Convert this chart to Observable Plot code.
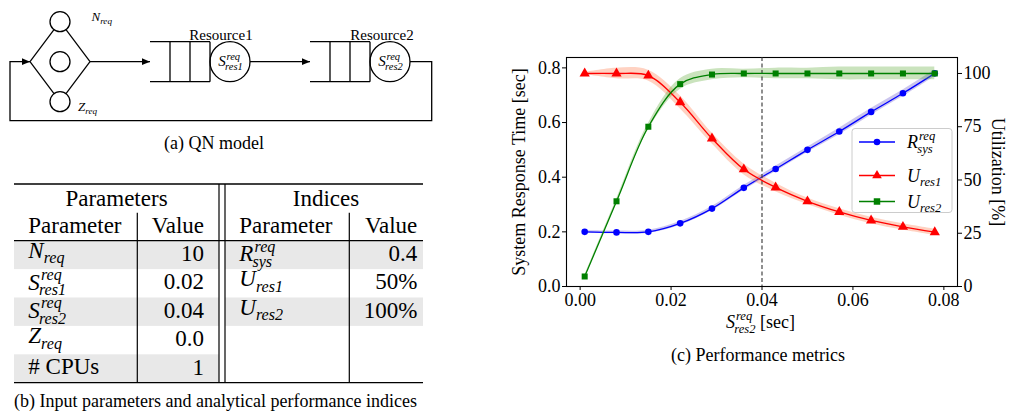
<!DOCTYPE html>
<html><head><meta charset="utf-8">
<script src="https://cdn.jsdelivr.net/npm/d3@7"></script>
<script src="https://cdn.jsdelivr.net/npm/@observablehq/plot@0.6"></script>
<style>
body{margin:0;width:1009px;height:419px;background:#fff;position:relative;overflow:hidden;font-family:"Liberation Serif",serif;}
.abs{position:absolute;}
svg, svg text{font-family:"Liberation Serif",serif !important;}
</style></head><body>
<svg id="diagram" class="abs" style="left:0;top:0" width="450" height="165"></svg>
<svg id="table" class="abs" style="left:0;top:0" width="450" height="419"></svg>
<div id="chart1" class="abs" style="left:480px;top:0"></div>
<div id="chart2" class="abs" style="left:480px;top:0"></div>
<svg id="over" class="abs" style="left:0;top:0;pointer-events:none" width="1009" height="419"></svg>
<script>
// ---------------- data ----------------
const sRes2 = [0.001,0.008,0.015,0.022,0.029,0.036,0.043,0.050,0.057,0.064,0.071,0.078];
const rSys  = [0.200,0.198,0.200,0.231,0.285,0.361,0.430,0.500,0.567,0.639,0.707,0.780];
const rSysBand = [0.005,0.005,0.006,0.007,0.008,0.009,0.010,0.010,0.012,0.012,0.012,0.012];
const uRes1 = [100,100,99,86.5,69.5,55,46.5,40,35,31,28,25.5];
const uRes1Band = [0.5,2.5,2.5,3,2.5,2.5,2,1.5,1.5,1.5,1.5,1.5];
const uRes2 = [4.7,40,75,95,99.5,100,100,100,100,100,100,100];
const uRes2Band = [0.5,1,1.5,2.5,2.5,2,2.5,2.5,3,3,3,3];
const xTicks = [0,0.02,0.04,0.06,0.08];
const yLeftTicks = [0,0.2,0.4,0.6,0.8];
const yRightTicks = [0,25,50,75,100];
const analyticS2 = 0.04;
const yLeftLabel = "System Response Time [sec]";
const yRightLabel = "Utilization [%]";

// table
const paramNames = [{base:"N",sub:"req"},{base:"S",sup:"req",sub:"res1"},{base:"S",sup:"req",sub:"res2"},{base:"Z",sub:"req"},{text:"# CPUs"}];
const paramValues = ["10","0.02","0.04","0.0","1"];
const indexNames = [{base:"R",sup:"req",sub:"sys"},{base:"U",sub:"res1"},{base:"U",sub:"res2"}];
const indexValues = ["0.4","50%","100%"];

// ---------------- helpers ----------------
function math(sel, o) {
  const size = o.size, sc = o.scale || 0.7;
  const g = sel.append("g");
  let w = 0;
  if (o.text) {
    const t = g.append("text").attr("font-size", size).text(o.text);
    w = t.node().getComputedTextLength();
  } else {
    const b = g.append("text").attr("font-size", size).attr("font-style","italic").text(o.base);
    w = b.node().getComputedTextLength();
    let ws = 0, wb = 0;
    if (o.sup) {
      const s = g.append("text").attr("x", w + size*0.05).attr("y", -size*0.42)
        .attr("font-size", size*sc).attr("font-style","italic").text(o.sup);
      ws = s.node().getComputedTextLength() + size*0.05;
    }
    if (o.sub) {
      const s = g.append("text").attr("x", w - (o.sup ? size*0.04 : 0)).attr("y", size*0.25)
        .attr("font-size", size*sc).attr("font-style","italic").text(o.sub);
      wb = s.node().getComputedTextLength() - (o.sup ? size*0.04 : 0);
    }
    w += Math.max(ws, wb);
  }
  if (o.suffix) {
    const t = g.append("text").attr("x", w + size*0.25).attr("font-size", size).text(o.suffix);
    w += size*0.25 + t.node().getComputedTextLength();
  }
  const dx = o.anchor === "middle" ? -w/2 : o.anchor === "end" ? -w : 0;
  g.attr("transform", `translate(${o.x + dx},${o.y})`);
  return g;
}

// ---------------- (a) diagram ----------------
(function(){
  const s = d3.select("#diagram");
  s.append("defs").append("marker").attr("id","ah").attr("viewBox","0 0 10 10")
    .attr("refX",10).attr("refY",5).attr("markerWidth",9).attr("markerHeight",8)
    .attr("markerUnits","userSpaceOnUse").attr("orient","auto")
    .append("path").attr("d","M0,0.8 L10,5 L0,9.2 z").attr("fill","black");
  const st = {stroke:"black","stroke-width":1.3,fill:"none"};
  const P = (d, arrow) => { const p = s.append("path").attr("d", d); Object.entries(st).forEach(([k,v])=>p.attr(k,v)); if (arrow) p.attr("marker-end","url(#ah)"); };
  const cy = 61.7;
  P(`M410,${cy} H431.7 V120.7 H10 V${cy} H30`, true);
  const cxD = 60, rD = 10, cTop = 21.7, cBot = 101.7;
  const edge = (x0,y0,cx,cyy) => { const dx=cx-x0, dy=cyy-y0, L=Math.hypot(dx,dy); return [x0+dx*(L-rD)/L, y0+dy*(L-rD)/L]; };
  [[30,cTop],[30,cBot],[90,cTop],[90,cBot]].forEach(([x0,c])=>{ const [x1,y1]=edge(x0,cy,cxD,c); P(`M${x0},${cy} L${x1},${y1}`); });
  [cTop, cy, cBot].forEach(c => s.append("circle").attr("cx",cxD).attr("cy",c).attr("r",rD).attr("stroke","black").attr("stroke-width",1.3).attr("fill","none"));
  P(`M90,${cy} H150`, true);
  P(`M250,${cy} H310`, true);
  [[150,230],[310,390]].forEach(([x0,cc])=>{
    P(`M${x0},41.7 H${x0+60} M${x0},81.7 H${x0+60} M${x0+20},41.7 V81.7 M${x0+40},41.7 V81.7 M${x0+60},41.7 V81.7`);
    s.append("circle").attr("cx",cc).attr("cy",cy).attr("r",20).attr("stroke","black").attr("stroke-width",1.3).attr("fill","none");
  });
  s.append("text").attr("x",221).attr("y",39.5).attr("font-size",15).attr("text-anchor","middle").text("Resource1");
  s.append("text").attr("x",382).attr("y",39.5).attr("font-size",15).attr("text-anchor","middle").text("Resource2");
  math(s,{x:230.5,y:66,base:"S",sup:"req",sub:"res1",size:15,anchor:"middle"});
  math(s,{x:390.5,y:66,base:"S",sup:"req",sub:"res2",size:15,anchor:"middle"});
  math(s,{x:91.5,y:21,base:"N",sub:"req",size:13});
  math(s,{x:78,y:111,base:"Z",sub:"req",size:13});
  s.append("text").attr("x",214).attr("y",149).attr("font-size",18).attr("text-anchor","middle").text("(a) QN model");
})();

// ---------------- (b) table ----------------
(function(){
  const s = d3.select("#table");
  const L = 14, R = 423, D1 = 219, D2 = 225, V1 = 137.3, V2 = 349.3;
  const top = 184, subTop = 212.7, hdrBottom = 240.7, rowH = 28.4;
  const rowTop = i => hdrBottom + i*rowH;
  const bottom = rowTop(paramValues.length);
  paramValues.forEach((v,i)=>{ if (i%2===0) s.append("rect").attr("x",L).attr("y",rowTop(i)).attr("width",D1-L).attr("height",rowH).attr("fill","#e8e8e8"); });
  indexValues.forEach((v,i)=>{ if (i%2===0) s.append("rect").attr("x",D2).attr("y",rowTop(i)).attr("width",R-D2).attr("height",rowH).attr("fill","#e8e8e8"); });
  const line = (x1,y1,x2,y2,w=1.2) => s.append("line").attr("x1",x1).attr("y1",y1).attr("x2",x2).attr("y2",y2).attr("stroke","black").attr("stroke-width",w);
  line(L,top,R,top,1.3); line(L,hdrBottom,R,hdrBottom); line(L,bottom,R,bottom,1.3);
  line(D1,top,D1,bottom); line(D2,top,D2,bottom);
  line(V1,subTop,V1,bottom); line(V2,subTop,V2,bottom);
  const fs = 23;
  const txt = (x,y,t,a="start") => s.append("text").attr("x",x).attr("y",y).attr("font-size",fs).attr("text-anchor",a).text(t);
  txt((L+D1)/2, 205.5, "Parameters", "middle");
  txt((D2+R)/2+2, 205.5, "Indices", "middle");
  txt(28.3, 233, "Parameter"); txt(204, 233, "Value", "end");
  txt(239.3, 233, "Parameter"); txt(417.3, 233, "Value", "end");
  paramNames.forEach((n,i)=>{
    const base = rowTop(i) + (n.text ? 20 : (n.sup ? 20.5 : 17));
    math(s, Object.assign({x:28.3, y:base, size:fs}, n));
    txt(204, rowTop(i)+20.2, paramValues[i], "end");
  });
  indexNames.forEach((n,i)=>{
    const base = rowTop(i) + (n.sup ? 20.5 : 17);
    math(s, Object.assign({x:239.3, y:base, size:fs}, n));
    txt(417.3, rowTop(i)+20.2, indexValues[i], "end");
  });
  s.append("text").attr("x",215.5).attr("y",407).attr("font-size",18).attr("text-anchor","middle").text("(b) Input parameters and analytical performance indices");
})();

// ---------------- (c) chart ----------------
const rows = sRes2.map((x,i)=>({x,
  r:rSys[i], rLo:rSys[i]-rSysBand[i], rHi:rSys[i]+rSysBand[i],
  u1:uRes1[i], u1Lo:uRes1[i]-uRes1Band[i], u1Hi:uRes1[i]+uRes1Band[i],
  u2:uRes2[i], u2Lo:uRes2[i]-uRes2Band[i], u2Hi:uRes2[i]+uRes2Band[i]}));
const common = {width:529, height:340, marginLeft:86, marginRight:52, marginTop:57, marginBottom:54,
  style:{fontFamily:"'Liberation Serif', serif", fontSize:"18px", color:"black", background:"transparent", overflow:"visible"}};
const curve = "catmull-rom";
const p1 = Plot.plot({...common,
  x:{domain:[-0.003,0.083]}, y:{domain:[0,0.838]},
  marks:[
    Plot.areaY(rows,{x:"x", y1:"rLo", y2:"rHi", fill:"#6a5acd", fillOpacity:0.35, curve}),
    Plot.lineY(rows,{x:"x", y:"r", stroke:"blue", strokeWidth:1.3, curve}),
    Plot.dot(rows,{x:"x", y:"r", fill:"blue", stroke:"none", r:3.3, symbol:"circle"}),
    Plot.axisX({ticks:xTicks, tickFormat:d3.format(".2f"), tickSize:4, tickPadding:3, label:null, stroke:"black"}),
    Plot.axisY({ticks:yLeftTicks, tickFormat:d3.format(".1f"), tickSize:4, tickPadding:2, label:null, stroke:"black"}),
    Plot.text([yLeftLabel],{frameAnchor:"left", dx:-47, rotate:-90, text:d=>d, textAnchor:"middle", fontSize:18}),
    Plot.frame({stroke:"black", strokeWidth:1.1})
  ]});
document.getElementById("chart1").appendChild(p1);
const p2 = Plot.plot({...common,
  x:{domain:[-0.003,0.083], axis:null}, y:{domain:[0,107.5]},
  marks:[
    Plot.areaY(rows,{x:"x", y1:"u1Lo", y2:"u1Hi", fill:"#ff7f50", fillOpacity:0.35, curve}),
    Plot.areaY(rows,{x:"x", y1:"u2Lo", y2:"u2Hi", fill:"#5aa832", fillOpacity:0.32, curve}),
    Plot.ruleX([analyticS2],{stroke:"#333", strokeWidth:1.1, strokeDasharray:"4,2.5"}),
    Plot.lineY(rows,{x:"x", y:"u1", stroke:"red", strokeWidth:1.3, curve}),
    Plot.lineY(rows,{x:"x", y:"u2", stroke:"green", strokeWidth:1.3, curve}),
    Plot.dot(rows,{x:"x", y:"u1", fill:"red", stroke:"none", r:3.8, symbol:"triangle"}),
    Plot.dot(rows,{x:"x", y:"u2", fill:"green", stroke:"none", r:3.4, symbol:"square"}),
    Plot.axisY({anchor:"right", ticks:yRightTicks, tickSize:4, tickPadding:2, label:null, stroke:"black"}),
    Plot.text([yRightLabel],{frameAnchor:"right", dx:40, rotate:90, text:d=>d, textAnchor:"middle", fontSize:18})
  ]});
document.getElementById("chart2").appendChild(p2);

// overlay: x label, legend, caption
(function(){
  const s = d3.select("#over");
  math(s,{x:760.5, y:328, base:"S", sup:"req", sub:"res2", suffix:"[sec]", size:18, anchor:"middle"});
  s.append("text").attr("x",758).attr("y",360.5).attr("font-size",18).attr("text-anchor","middle").text("(c) Performance metrics");
  s.append("rect").attr("x",852).attr("y",128.5).attr("width",100).attr("height",84).attr("rx",3)
    .attr("fill","white").attr("fill-opacity",0.8).attr("stroke","#cccccc").attr("stroke-width",1);
  const items = [
    {name:indexNames[0], color:"blue", sym:d3.symbolCircle, area:34, y:142},
    {name:indexNames[1], color:"red", sym:d3.symbolTriangle, area:40, y:175.5},
    {name:indexNames[2], color:"green", sym:d3.symbolSquare, area:42, y:201.5}];
  items.forEach(it=>{
    s.append("line").attr("x1",859).attr("x2",895).attr("y1",it.y).attr("y2",it.y).attr("stroke",it.color).attr("stroke-width",1.3);
    s.append("path").attr("d", d3.symbol(it.sym, it.area)()).attr("transform",`translate(877,${it.y})`).attr("fill",it.color);
    math(s, Object.assign({x:907, y:it.y+6, size:18}, it.name));
  });
})();
</script>
</body></html>
